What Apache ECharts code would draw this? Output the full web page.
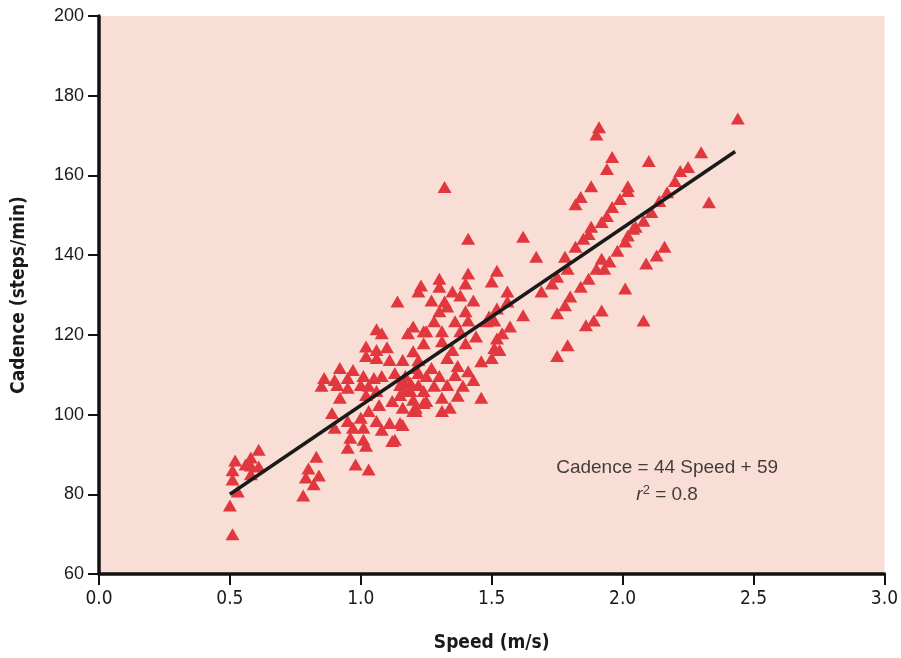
<!DOCTYPE html>
<html>
<head>
<meta charset="utf-8">
<script src="https://cdn.jsdelivr.net/npm/echarts@6/dist/echarts.min.js"></script>
<style>
html,body{margin:0;padding:0;background:#fff;}
#c{width:901px;height:658px;}
</style>
</head>
<body>
<div id="c"></div>
<script>
// Speed (m/s) and Cadence (steps/min) of each measured walk
var speed = [
  0.51,0.50,0.53,0.51,0.51,0.52,0.58,0.61,0.58,0.61,0.58,0.56,
  0.83,0.80,0.84,0.79,0.82,0.78,
  1.14,1.06,1.08,1.20,1.18,1.24,1.02,1.06,1.10,1.02,1.06,1.11,1.16,1.20,1.24,
  0.92,0.97,0.86,0.90,0.95,1.01,1.05,1.08,1.13,1.17,1.22,
  0.85,0.91,0.95,1.00,1.03,1.15,1.19,0.92,1.02,1.06,1.15,1.19,
  0.89,0.90,0.95,0.97,1.00,1.03,1.07,1.12,1.16,1.21,1.24,1.01,1.06,1.11,1.15,
  0.96,1.01,1.08,1.13,0.95,1.02,1.12,0.98,1.03,1.21,1.20,
  1.32,1.41,1.62,1.52,1.50,1.56,1.41,1.40,1.30,1.30,1.23,1.22,1.27,1.35,1.38,1.43,
  1.32,1.33,1.30,1.40,1.52,1.56,1.49,1.62,1.28,1.36,1.41,1.48,1.51,
  1.25,1.31,1.38,1.44,1.52,1.57,1.31,1.35,1.40,1.51,1.22,1.27,1.33,1.37,1.46,1.50,
  1.25,1.30,1.36,1.41,1.43,1.16,1.22,1.28,1.33,1.39,1.17,1.24,1.31,1.37,1.46,
  1.20,1.25,1.21,1.31,1.34,1.16,1.54,1.53,1.69,1.79,
  1.67,1.78,1.79,1.75,1.73,1.88,1.92,1.85,1.82,1.92,1.90,1.95,1.87,1.84,1.80,1.78,
  1.75,1.92,1.89,1.86,1.75,2.01,2.08,2.04,2.02,2.01,1.98,1.93,2.09,2.13,2.16,
  1.91,1.90,1.96,1.94,2.10,2.30,1.88,1.84,1.82,2.02,2.02,1.99,1.96,1.94,1.87,
  2.22,2.25,2.20,2.17,2.14,2.11,2.08,2.05,2.33,2.44
];
var cadence = [
  70.0,77.2,80.7,83.7,86.0,88.5,89.2,91.2,87.2,87.0,85.0,87.5,
  89.4,86.5,84.7,84.2,82.5,79.7,
  128.4,121.4,120.4,122.1,120.4,120.9,117.1,116.2,116.9,114.7,114.2,113.7,113.7,115.9,117.9,
  111.7,111.2,109.2,108.7,109.2,109.7,109.2,109.7,110.4,109.7,110.4,
  107.2,107.4,106.7,107.4,107.2,107.4,107.9,104.2,104.9,105.9,104.9,105.9,
  100.4,96.7,98.4,96.7,99.2,100.9,102.4,103.4,101.7,101.7,102.9,96.7,98.4,97.9,97.9,
  94.2,93.7,96.2,93.7,91.7,92.2,93.4,87.5,86.2,111.7,100.9,
  157.1,144.1,144.6,136.1,133.4,130.9,135.4,132.9,134.1,132.1,132.4,130.9,128.6,130.9,129.9,128.6,
  128.4,127.1,125.9,125.9,126.6,128.4,124.6,124.9,123.4,123.4,123.6,123.4,123.6,
  120.9,120.9,120.9,119.6,119.1,122.1,118.4,116.2,117.9,116.7,113.7,111.7,114.2,112.2,113.4,114.2,
  109.7,109.7,109.9,110.9,108.7,108.4,107.4,107.2,107.4,107.2,105.9,105.9,104.2,104.7,104.2,
  103.7,103.4,100.9,100.9,101.7,97.4,120.4,116.2,130.9,117.4,
  139.6,139.6,136.6,134.6,132.9,147.1,148.3,144.1,142.1,139.1,136.6,138.4,134.1,132.1,129.6,127.4,
  125.4,126.1,123.6,122.4,114.7,131.6,123.6,146.6,144.9,143.4,141.1,136.6,137.9,139.9,142.1,
  172.1,170.3,164.6,161.6,163.6,165.8,157.3,154.6,152.8,157.3,156.1,154.1,152.1,149.8,145.3,
  161.1,162.1,158.6,155.8,153.6,150.8,148.6,147.1,153.3,174.3
];
// Regression line end points (speed, cadence)
var fitSpeed = [0.50, 2.43];
var fitCadence = [80, 166];
// Axis ticks
var xTicks = [0, 0.5, 1.0, 1.5, 2.0, 2.5, 3.0];
var yTicks = [60, 80, 100, 120, 140, 160, 180, 200];
// Annotation text anchored in data units
var noteSpeed = 2.17;
var noteCadence = [86.6, 80.0];

var pts = speed.map(function(s, i){ return [s, cadence[i]]; });
var fit = fitSpeed.map(function(s, i){ return [s, fitCadence[i]]; });

var chart = echarts.init(document.getElementById('c'), null, {renderer:'canvas'});
var narrow = "'Liberation Sans Narrow','DejaVu Sans Condensed','Liberation Sans',Arial,sans-serif";
var sans = "'Liberation Sans',Arial,sans-serif";
chart.setOption({
  animation:false,
  backgroundColor:'#ffffff',
  grid:{left:99, right:15, top:16, bottom:81, show:true, backgroundColor:'#F9DED5', borderWidth:0},
  xAxis:{
    type:'value', min:xTicks[0], max:xTicks[xTicks.length-1], interval:0.5,
    name:'Speed (m/s)', nameLocation:'middle', nameGap:60,
    nameTextStyle:{fontFamily:narrow, fontWeight:'bold', fontSize:19, color:'#1a1a1a'},
    axisLine:{show:true, onZero:false, lineStyle:{color:'#111', width:3.5}},
    axisTick:{show:true, inside:false, length:11, lineStyle:{color:'#111', width:2}},
    axisLabel:{fontFamily:narrow, fontSize:19, color:'#1a1a1a', margin:16,
      formatter:function(v){return v.toFixed(1);}},
    splitLine:{show:false}
  },
  yAxis:{
    type:'value', min:yTicks[0], max:yTicks[yTicks.length-1], interval:20,
    name:'Cadence (steps/min)', nameLocation:'middle', nameGap:70,
    nameTextStyle:{fontFamily:narrow, fontWeight:'bold', fontSize:19, color:'#1a1a1a'},
    axisLine:{show:true, onZero:false, lineStyle:{color:'#111', width:3.5}},
    axisTick:{show:true, inside:false, length:11, lineStyle:{color:'#111', width:2}},
    axisLabel:{fontFamily:sans, fontSize:18, color:'#1a1a1a', margin:15},
    splitLine:{show:false}
  },
  series:[
    {type:'scatter', data:pts, symbol:'triangle', symbolSize:[14,12],
     itemStyle:{color:'#E1383F', opacity:1}, z:2},
    {type:'line', data:fit, symbol:'none', lineStyle:{color:'#1a1a1a', width:3.5}, z:3},
    {type:'scatter', symbolSize:0, z:4, silent:true,
     data:[[noteSpeed, noteCadence[0], 0],[noteSpeed, noteCadence[1], 1]],
     label:{show:true, position:'inside', color:'#111', fontFamily:sans, fontSize:19,
       formatter:function(p){
         return p.data[2]===0 ? 'Cadence = 44 Speed + 59' : '{i|r}{s|2}{n| = 0.8}';
       },
       rich:{
         i:{fontFamily:sans, fontSize:19, fontStyle:'italic', color:'#111'},
         s:{fontFamily:sans, fontSize:13, color:'#111', padding:[0,0,8,0]},
         n:{fontFamily:sans, fontSize:19, color:'#111'}
       }}
    }
  ]
});
</script>
</body>
</html>
